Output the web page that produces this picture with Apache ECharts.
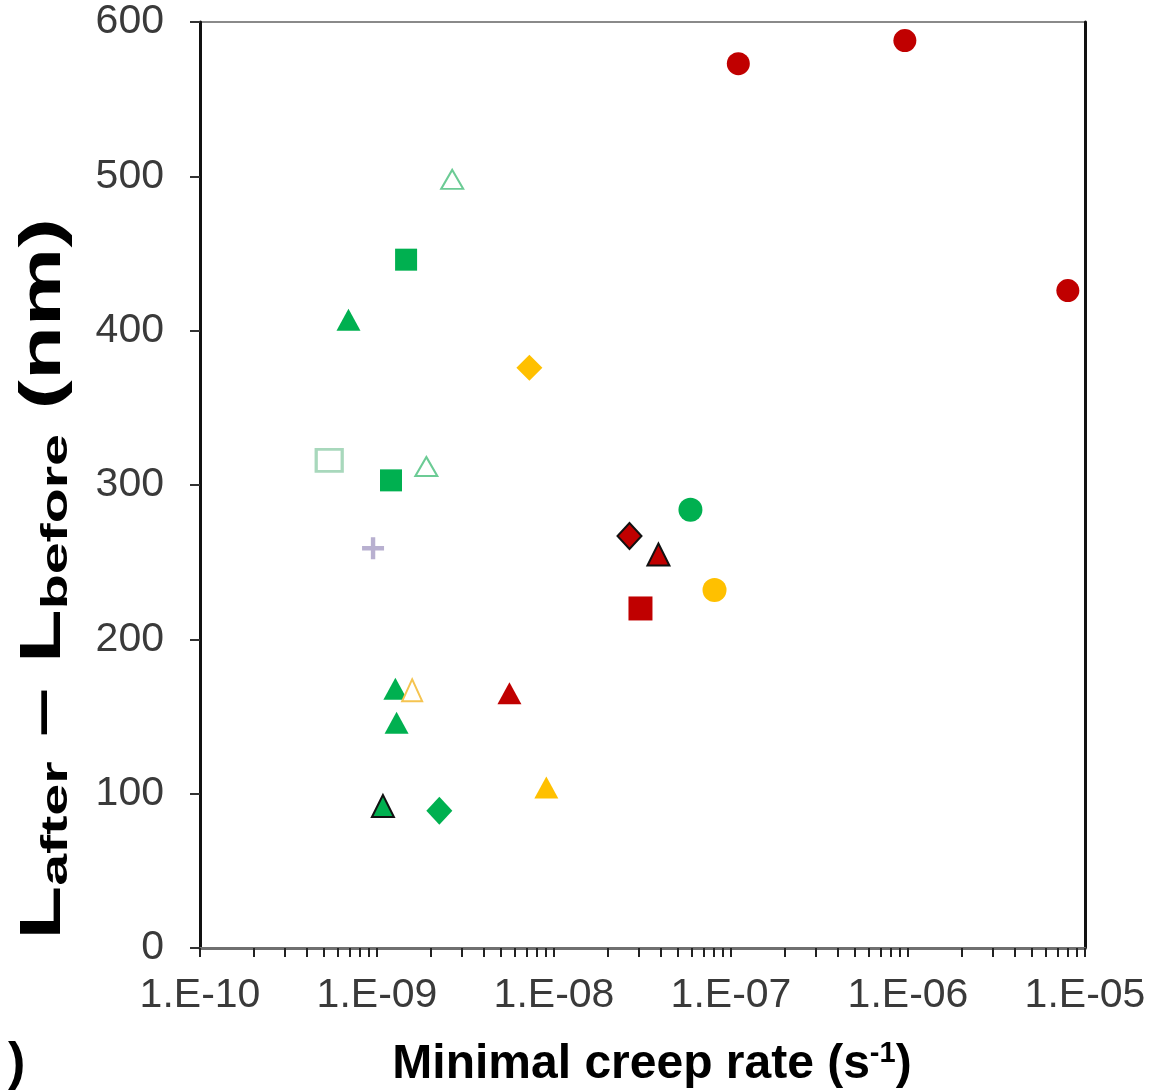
<!DOCTYPE html>
<html>
<head>
<meta charset="utf-8">
<script src="https://cdn.jsdelivr.net/npm/echarts@6/dist/echarts.min.js"></script>
<style>
html,body{margin:0;padding:0;background:#fff;}
#chart{width:1153px;height:1091px;}
</style>
</head>
<body>
<div id="chart"></div>
<script>
// ---- Data ----
const xTickValues = [1e-10, 1e-9, 1e-8, 1e-7, 1e-6, 1e-5];
const xTickLabels = ['1.E-10', '1.E-09', '1.E-08', '1.E-07', '1.E-06', '1.E-05'];
const yTickLabels = ['0', '100', '200', '300', '400', '500', '600'];

const redCircles      = [[1.10e-7, 573], [9.6e-7, 588], [8.0e-6, 426]];
const greenOpenTri    = [[2.66e-9, 498], [1.90e-9, 312]];
const greenSquares    = [[1.46e-9, 446], [1.20e-9, 303]];
const greenTri        = [[6.9e-10, 407], [1.27e-9, 168], [1.29e-9, 146]];
const orangeDiamond   = [[7.26e-9, 376]];
const greenOpenSquare = [[5.37e-10, 316]];
const grayPlus        = [[9.5e-10, 259]];
const greenCircle     = [[5.9e-8, 284]];
const redDiamondBlack = [[2.67e-8, 267]];
const redTriBlack     = [[3.89e-8, 255]];
const orangeCircle    = [[8.07e-8, 232]];
const redSquare       = [[3.08e-8, 220]];
const orangeOpenTri   = [[1.58e-9, 167]];
const redTri          = [[5.6e-9, 165]];
const greenTriBlack   = [[1.08e-9, 92]];
const greenDiamond    = [[2.25e-9, 89]];
const orangeTri       = [[9.05e-9, 104]];

// minor tick positions of the log axis (1..9 in each decade)
const xMinorTicks = [];
for (let d = -10; d < -5; d++) {
  for (let m = 1; m <= 9; m++) xMinorTicks.push(+(m * Math.pow(10, d)).toPrecision(3));
}
xMinorTicks.push(1e-5);

// ---- Styles ----
const GREEN = '#00B050', RED = '#C00000', ORANGE = '#FFC000';
const FONT = '"Liberation Sans", Arial, sans-serif';

function sc(data, symbol, size, style) {
  return {
    type: 'scatter', data: data, symbol: symbol, symbolSize: size,
    itemStyle: Object.assign({ opacity: 1 }, style), z: 5
  };
}

const series = [
  sc(redCircles, 'circle', 23, { color: RED }),
  sc(greenOpenTri, 'triangle', [22, 19], { color: '#fff', borderColor: '#6CCB95', borderWidth: 2 }),
  sc(greenSquares, 'rect', 22, { color: GREEN }),
  sc(greenTri, 'triangle', [24, 22], { color: GREEN }),
  sc(orangeDiamond, 'diamond', [26, 26], { color: ORANGE }),
  sc(greenOpenSquare, 'rect', [26, 22], { color: '#fff', borderColor: '#A8D8BC', borderWidth: 3 }),
  sc(grayPlus, 'path://M4,0h2v4h4v2h-4v4h-2v-4h-4v-2h4z', 22, { color: '#B8B0D0' }),
  sc(greenCircle, 'circle', 24, { color: GREEN }),
  sc(redDiamondBlack, 'diamond', [24, 26], { color: RED, borderColor: '#111', borderWidth: 2 }),
  sc(redTriBlack, 'triangle', [22, 22], { color: RED, borderColor: '#111', borderWidth: 2 }),
  sc(orangeCircle, 'circle', 24, { color: ORANGE }),
  sc(redSquare, 'rect', 24, { color: RED }),
  sc(orangeOpenTri, 'triangle', [20, 22], { color: '#fff', borderColor: '#F5C450', borderWidth: 2 }),
  sc(redTri, 'triangle', [24, 22], { color: RED }),
  sc(greenTriBlack, 'triangle', [22, 22], { color: GREEN, borderColor: '#111', borderWidth: 2 }),
  sc(greenDiamond, 'diamond', [26, 28], { color: GREEN }),
  sc(orangeTri, 'triangle', [24, 22], { color: ORANGE })
];

const chart = echarts.init(document.getElementById('chart'), null, { renderer: 'canvas' });
chart.setOption({
  animation: false,
  backgroundColor: '#fff',
  grid: { left: 200, right: 68, top: 22, bottom: 143, show: true, borderColor: '#8a8a8a', borderWidth: 2, backgroundColor: 'transparent' },
  xAxis: [{
    type: 'log', logBase: 10, min: 1e-10, max: 1e-5,
    axisLine: { show: true, lineStyle: { color: '#707070', width: 3 } },
    axisTick: { show: true, length: 9, inside: false, customValues: xMinorTicks, lineStyle: { color: '#222', width: 2 } },
    minorTick: { show: false },
    splitLine: { show: false },
    axisLabel: {
      margin: 27, color: '#3a3a3a', fontFamily: FONT, fontSize: 41,
      customValues: xTickValues,
      formatter: function (v) { return xTickLabels[Math.round(Math.log10(v)) + 10]; }
    }
  }],
  yAxis: [{
    type: 'value', min: 0, max: 600, interval: 100,
    axisLine: { show: true, lineStyle: { color: '#111', width: 3 } },
    axisTick: { show: true, length: 10, lineStyle: { color: '#333', width: 2 } },
    splitLine: { show: false },
    axisLabel: {
      margin: 36, color: '#3a3a3a', fontFamily: FONT, fontSize: 41,
      formatter: function (v) { return yTickLabels[Math.round(v / 100)]; }
    }
  }, {
    type: 'value', min: 0, max: 600, position: 'right',
    axisLine: { show: true, lineStyle: { color: '#111', width: 3 } },
    axisTick: { show: false }, axisLabel: { show: false }, splitLine: { show: false }
  }],
  graphic: [
    {
      type: 'text', x: 652, y: 1065,
      style: {
        text: '{m|Minimal creep rate (s}{sup|-1}{m|)}',
        textAlign: 'center', textVerticalAlign: 'middle',
        rich: {
          m: { fontFamily: FONT, fontWeight: 'bold', fontSize: 48, fill: '#000', lineHeight: 58 },
          sup: { fontFamily: FONT, fontWeight: 'bold', fontSize: 29, fill: '#000', padding: [0, 0, 22, 0], lineHeight: 40 }
        }
      }
    },
    {
      type: 'text', x: 44, y: 579, rotation: Math.PI / 2, scaleX: 1.55, scaleY: 1,
      style: {
        text: '{m|L}{sub|after}{m| – L}{sub|before}{m| (nm)}',
        textAlign: 'center', textVerticalAlign: 'middle',
        rich: {
          m: { fontFamily: FONT, fontWeight: 'bold', fontSize: 57, fill: '#000', lineHeight: 64 },
          sub: { fontFamily: FONT, fontWeight: 'bold', fontSize: 37, fill: '#000', padding: [26, 0, 0, 0], lineHeight: 42 }
        }
      }
    },
    {
      type: 'text', x: 8, y: 1065,
      style: { text: ')', fontFamily: FONT, fontWeight: 'bold', fontSize: 52, fill: '#000', textVerticalAlign: 'middle' }
    }
  ],
  series: series
});
</script>
</body>
</html>
